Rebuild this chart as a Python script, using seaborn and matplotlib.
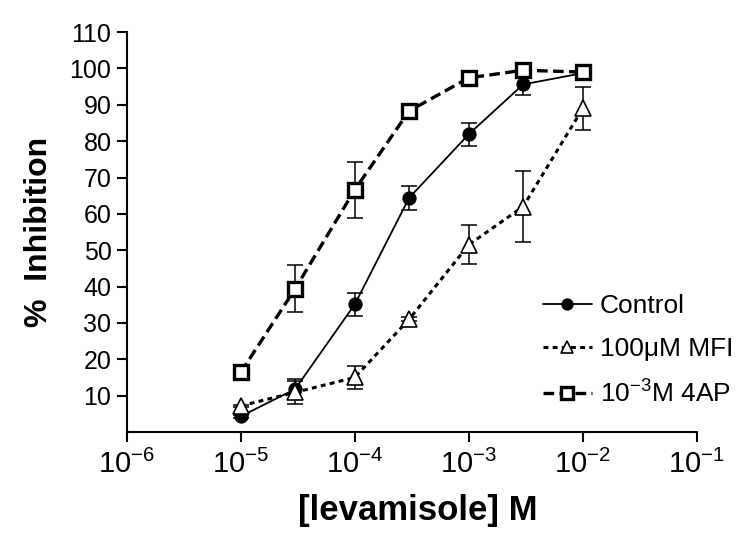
import numpy as np
import pandas as pd
import matplotlib
matplotlib.use("Agg")
import matplotlib.pyplot as plt
import matplotlib.ticker as mticker
import seaborn as sns

# levamisole concentrations (M)
conc = [1e-5, 3e-5, 1e-4, 3e-4, 1e-3, 3e-3, 1e-2]

# % inhibition, mean and SEM
control_mean = [4.3, 11.8, 35.1, 64.4, 81.9, 95.6, 98.7]
control_sem = [0.5, 2.7, 3.2, 3.3, 3.1, 3.0, 1.0]
mfi_mean = [7.2, 10.9, 15.0, 31.0, 51.5, 62.0, 89.0]
mfi_sem = [0.3, 3.2, 3.1, 0.5, 5.4, 9.7, 6.0]
ap_mean = [16.4, 39.4, 66.6, 88.3, 97.4, 99.5, 99.0]
ap_sem = [0.5, 6.4, 7.8, 0.5, 0.5, 1.0, 0.5]

labels = ["Control", "100\u03bcM MFI", "10$^{-3}$M 4AP"]
xtick_vals = [1e-6, 1e-5, 1e-4, 1e-3, 1e-2, 1e-1]
ytick_vals = [10, 20, 30, 40, 50, 60, 70, 80, 90, 100, 110]

sns.set_style("ticks")
plt.rcParams["font.family"] = ["Liberation Sans", "DejaVu Sans"]
plt.rcParams["mathtext.fontset"] = "custom"
plt.rcParams["mathtext.rm"] = "Liberation Sans"
plt.rcParams["mathtext.default"] = "regular"
plt.rcParams["text.color"] = "black"
plt.rcParams["axes.labelcolor"] = "black"
plt.rcParams["xtick.color"] = "black"
plt.rcParams["ytick.color"] = "black"
plt.rcParams["axes.edgecolor"] = "black"

fig = plt.figure(figsize=(7.5, 5.39), dpi=100)
ax = fig.add_axes([0.169, 0.1985, 0.76, 0.742])

series = [
    (control_mean, control_sem, dict(marker="o", ms=9.5, mfc="black", mec="black",
                                      lw=1.3), None),
    (mfi_mean, mfi_sem, dict(marker="^", ms=11, mfc="white", mec="black", mew=1.2,
                              lw=2.2), (1.6, 1.4)),
    (ap_mean, ap_sem, dict(marker="s", ms=10.5, mfc="white", mec="black", mew=2.4,
                            lw=2.4), (3.2, 1.6)),
]

handles = []
for (mean, sem, st, dashes), lab in zip(series, labels):
    df = pd.DataFrame({"conc": conc, "inh": mean})
    ax.errorbar(conc, mean, yerr=sem, fmt="none", ecolor="black",
                elinewidth=1.1, capsize=5.5, capthick=1.1, zorder=2)
    sns.lineplot(data=df, x="conc", y="inh", ax=ax, color="black",
                 label=lab, zorder=3, **st)
    line = ax.lines[-1]
    if dashes is not None:
        line.set_dashes(dashes)
    handles.append(line)

ax.set_xscale("log")
ax.set_xlim(1e-6, 1e-1)
ax.set_ylim(0, 110)
ax.set_xticks(xtick_vals)
ax.set_xticklabels(["10$^{%d}$" % int(np.log10(v)) for v in xtick_vals])
ax.xaxis.set_minor_locator(mticker.NullLocator())
ax.set_yticks(ytick_vals)

sns.despine(ax=ax)
for s in ["left", "bottom"]:
    ax.spines[s].set_linewidth(1.5)
ax.tick_params(axis="both", which="major", length=7, width=1.5, pad=4)
ax.tick_params(axis="x", labelsize=21, pad=6)
ax.tick_params(axis="y", labelsize=18)

ax.set_xlabel("[levamisole] M", fontsize=25, fontweight="bold")
ax.xaxis.set_label_coords(0.51, -0.155)
ax.set_ylabel("%  Inhibition", fontsize=23, fontweight="bold")
ax.yaxis.set_label_coords(-0.128, 0.5)

ax.legend(handles=handles, labels=labels, loc="upper left",
          bbox_to_anchor=(0.73, 0.345), frameon=False, fontsize=19,
          borderpad=0, borderaxespad=0,
          handlelength=1.85, handletextpad=0.3, labelspacing=0.72,
          markerscale=0.85)

fig.savefig("out.png", dpi=100)
